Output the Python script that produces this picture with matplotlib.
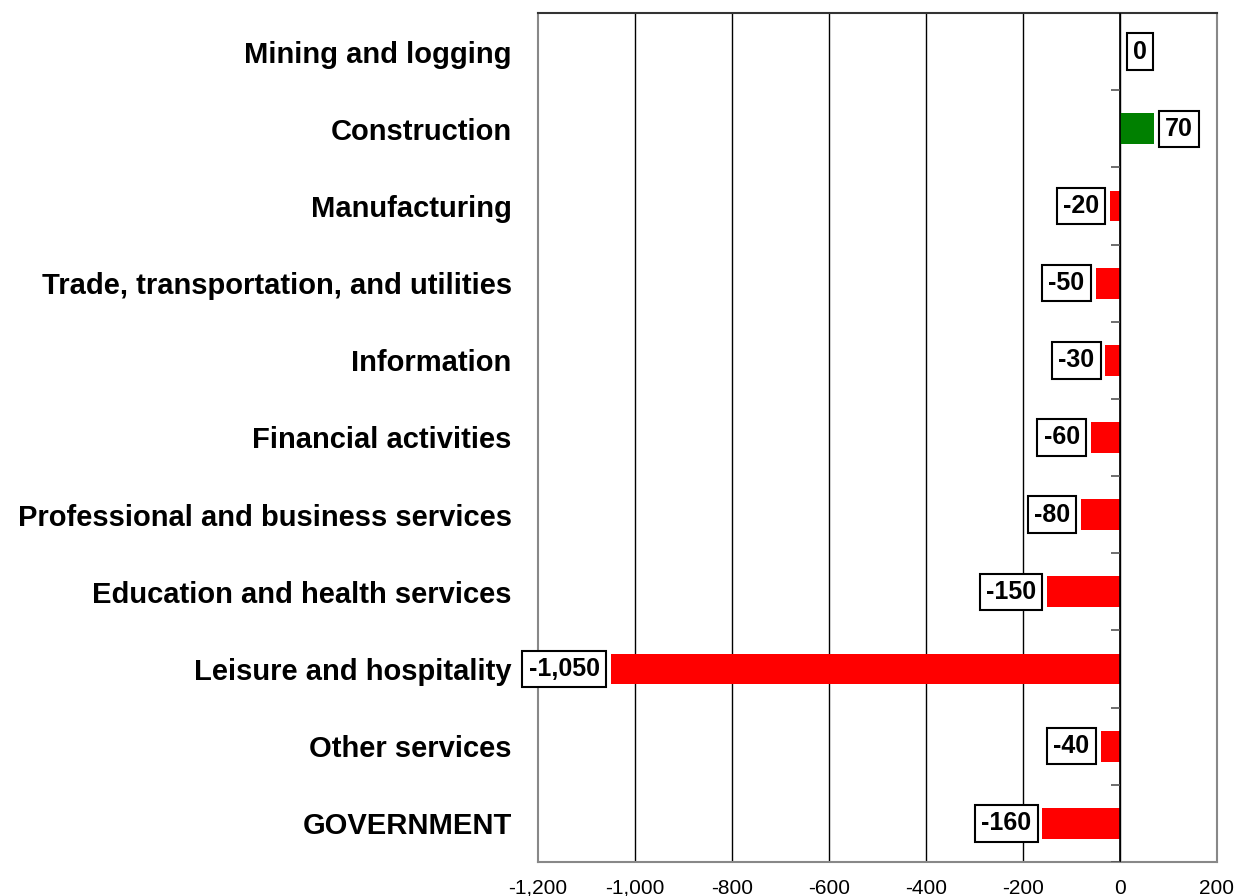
import matplotlib.pyplot as plt
import numpy as np

plt.rcParams['font.family'] = ['Liberation Sans', 'DejaVu Sans']

categories = ['Mining and logging', 'Construction', 'Manufacturing',
              'Trade, transportation, and utilities', 'Information',
              'Financial activities', 'Professional and business services',
              'Education and health services', 'Leisure and hospitality',
              'Other services', 'GOVERNMENT']
values = [0, 70, -20, -50, -30, -60, -80, -150, -1050, -40, -160]
xticks = [-1200, -1000, -800, -600, -400, -200, 0, 200]
xtick_labels = ['-1,200', '-1,000', '-800', '-600', '-400', '-200', '0', '200']

fig = plt.figure(figsize=(12.38, 8.96), dpi=100)
ax = fig.add_axes([0.4346, 0.038, 0.5484, 0.9475])

y = np.arange(len(categories))
colors = ['#008000' if v > 0 else '#FF0000' for v in values]
ax.barh(y, values, height=0.4, color=colors, zorder=3)

# vertical gridlines
for t in xticks[1:-1]:
    ax.axvline(t, color='black', lw=1, zorder=1)
ax.axvline(0, color='black', lw=1.2, zorder=4)
# little ticks on the zero line between categories
ax.hlines(y[:-1] + 0.5, -18, 0, color='#555555', lw=1.2, zorder=4)
ax.hlines([len(categories) - 0.5], -18, 0, color='#555555', lw=1.2, zorder=4)

# value labels in boxes
box = dict(boxstyle='square,pad=0.25', fc='white', ec='black', lw=1.5)
for yi, v in zip(y, values):
    txt = f'{v:,}'
    if v > 0:
        off, ha = 8, 'left'
    elif v == 0:
        off, ha = 9.5, 'left'
    else:
        off, ha = -8, 'right'
    ax.annotate(txt, (v, yi), xytext=(off, 0), textcoords='offset points',
                ha=ha, va='center', fontsize=18, fontweight='bold',
                bbox=box, zorder=5)

ax.set_xlim(-1200, 200)
ax.set_ylim(len(categories) - 0.5, -0.5)
ax.set_xticks(xticks)
ax.set_xticklabels(xtick_labels, fontsize=15)
ax.set_yticks(y)
ax.set_yticklabels(categories, fontsize=21, fontweight='bold')
ax.tick_params(axis='x', length=0, pad=12)
ax.tick_params(axis='y', length=0, pad=19)

for s in ['left', 'right', 'bottom']:
    ax.spines[s].set_color('#888888')
    ax.spines[s].set_linewidth(1.5)
ax.spines['top'].set_color('#333333')
ax.spines['top'].set_linewidth(1.5)

plt.savefig('out.png', dpi=100)
